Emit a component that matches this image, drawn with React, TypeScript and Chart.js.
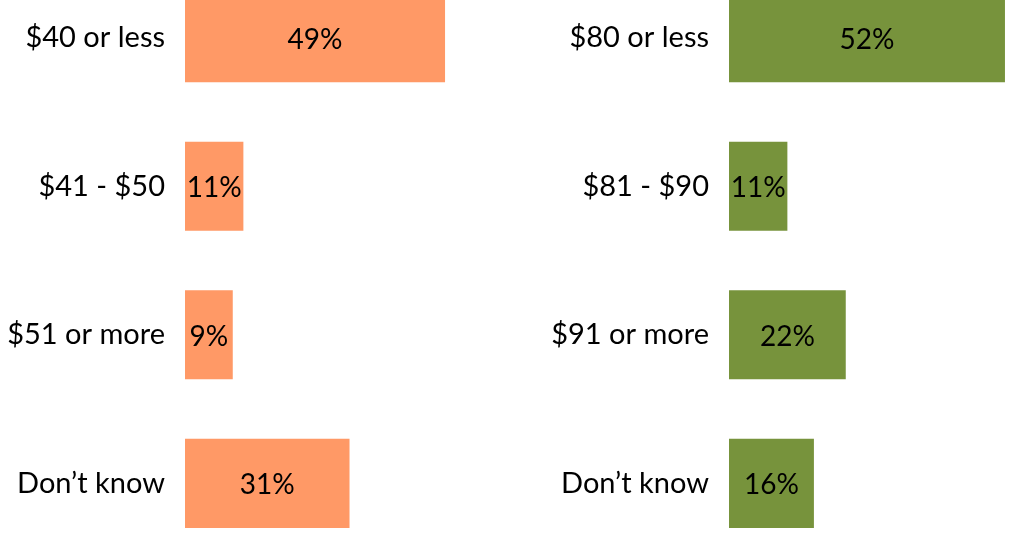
import React, { useEffect, useRef } from "react";
import { Chart, registerables } from "chart.js";

Chart.register(...registerables);

const leftCategories = ["$40 or less", "$41 - $50", "$51 or more", "Don\u2019t know"];
const leftValues = [49, 11, 9, 31];
const rightCategories = ["$80 or less", "$81 - $90", "$91 or more", "Don\u2019t know"];
const rightValues = [52, 11, 22, 16];

const ORANGE = "#FF9966";
const GREEN = "#77933C";
const FONT = "Lato, 'Open Sans', sans-serif";
const FONT_SIZE = 29;
const PX_PER_PCT = 5.307;
const CANVAS_H = 669;
const CANVAS_TOP = -74;

const valueLabelPlugin = {
  id: "valueLabels",
  afterDatasetsDraw(chart: any) {
    const ctx = chart.ctx;
    const meta = chart.getDatasetMeta(0);
    const data = chart.data.datasets[0].data as number[];
    ctx.save();
    ctx.fillStyle = "#000";
    ctx.font = `28px ${FONT}`;
    ctx.textAlign = "center";
    ctx.textBaseline = "middle";
    meta.data.forEach((bar: any, i: number) => {
      const cx = (bar.base + bar.x) / 2;
      ctx.fillText(`${data[i]}%`, cx, bar.y + 2);
    });
    ctx.restore();
  },
};

function BarPanel(props: {
  categories: string[];
  values: number[];
  color: string;
  axisWidth: number;
  width: number;
}) {
  const ref = useRef<HTMLCanvasElement | null>(null);
  useEffect(() => {
    if (!ref.current) return;
    const areaWidth = props.width - props.axisWidth;
    const chart = new Chart(ref.current, {
      type: "bar",
      data: {
        labels: props.categories,
        datasets: [
          {
            data: props.values,
            backgroundColor: props.color,
            borderWidth: 0,
            categoryPercentage: 1,
            barPercentage: 0.6,
          },
        ],
      },
      options: {
        indexAxis: "y",
        animation: false,
        responsive: false,
        maintainAspectRatio: false,
        layout: { padding: 0 },
        plugins: { legend: { display: false }, tooltip: { enabled: false } },
        scales: {
          x: {
            display: false,
            min: 0,
            max: areaWidth / PX_PER_PCT,
          },
          y: {
            grid: { display: false, drawTicks: false },
            border: { display: false },
            ticks: {
              color: "#000",
              padding: 20,
              font: { family: FONT, size: FONT_SIZE, lineHeight: 1.2 },
            },
            afterFit(scale: any) {
              scale.width = props.axisWidth;
            },
          },
        },
      },
      plugins: [valueLabelPlugin],
    });
    return () => chart.destroy();
  }, []);
  return (
    <canvas
      ref={ref}
      width={props.width}
      height={CANVAS_H}
      style={{ width: props.width, height: CANVAS_H, display: "block" }}
    />
  );
}

export default function App() {
  return (
    <div
      style={{
        position: "fixed",
        left: 0,
        top: 0,
        width: 1019,
        height: 535,
        overflow: "hidden",
        background: "#fff",
      }}
    >
      <div style={{ position: "absolute", left: 0, top: CANVAS_TOP }}>
        <BarPanel categories={leftCategories} values={leftValues} color={ORANGE} axisWidth={185} width={500} />
      </div>
      <div style={{ position: "absolute", left: 500, top: CANVAS_TOP }}>
        <BarPanel categories={rightCategories} values={rightValues} color={GREEN} axisWidth={229} width={519} />
      </div>
    </div>
  );
}
